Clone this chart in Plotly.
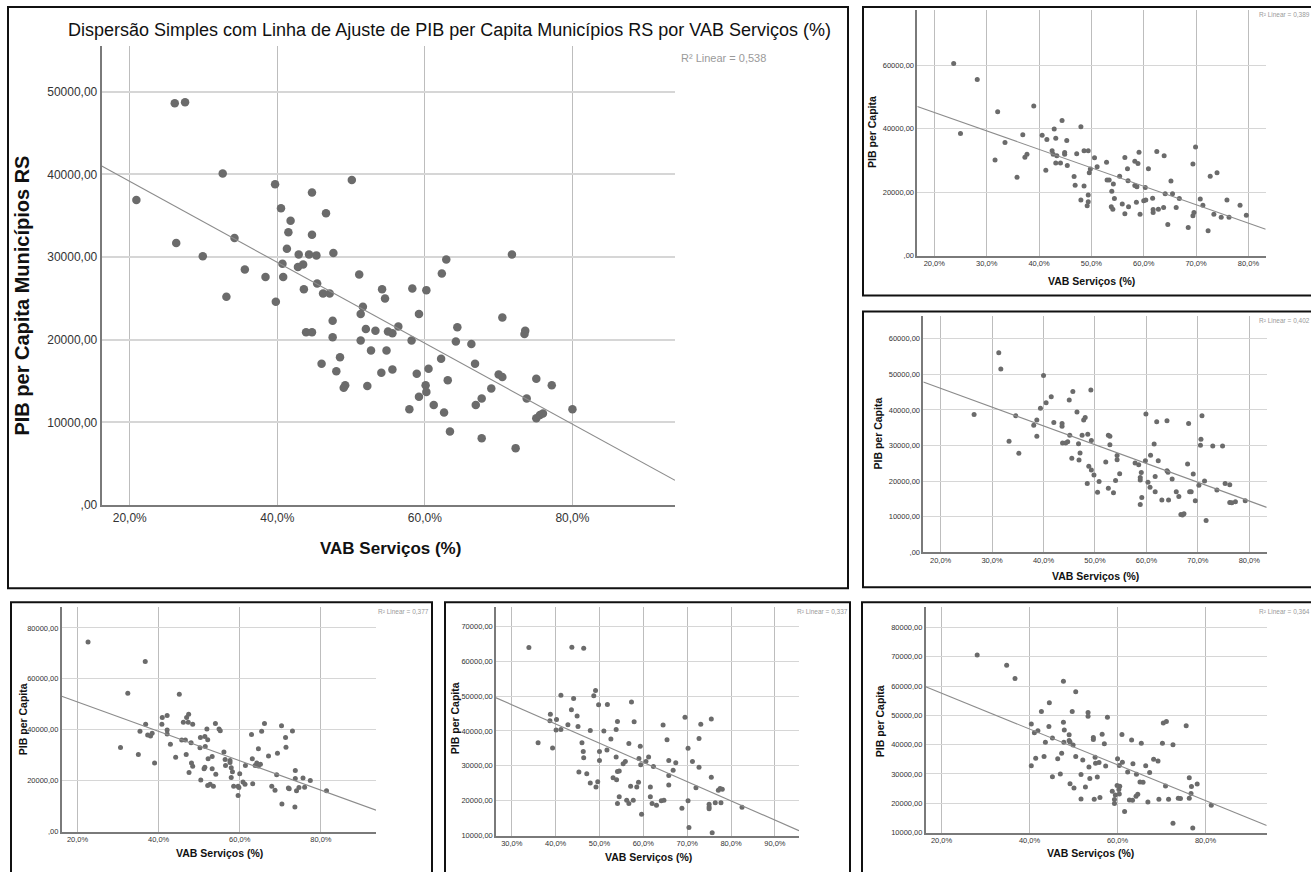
import plotly.graph_objects as go

W, H = 1311, 872
FONT = "Liberation Sans, Arial, sans-serif"

# ---------------- data (VAB Serviços %, PIB per capita in thousands) ----------------
main_vab = [26.1,27.5,32.6,39.7,50.1,20.9,44.7,40.5,46.6,41.8,
            41.5,44.7,26.3,34.2,41.3,29.9,42.9,44.3,45.3,47.6,
            40.7,42.8,43.5,35.6,51.1,38.4,40.8,33.1,43.6,45.4,
            46.2,47.1,54.2,58.3,60.2,54.6,39.8,51.6,51.3,47.5,
            43.9,44.7,47.5,52.0,53.3,55.0,55.6,51.3,52.7,54.8,
            48.5,46.0,48.0,54.1,49.2,49.0,52.2,62.3,59.2,56.4,
            58.2,64.4,64.2,66.3,70.5,73.6,73.5,62.2,66.8,55.6,
            58.9,60.5,60.1,60.2,63.1,59.2,61.2,62.6,57.9,70.0,
            70.5,69.0,67.7,66.9,75.1,77.2,73.8,75.1,75.6,76.0,
            80.0,63.4,67.7,72.3,62.9,71.8]
main_pib = [48.6,48.7,40.1,38.8,39.3,36.9,37.8,35.9,35.3,34.4,
            33.0,32.7,31.7,32.3,31.0,30.1,30.3,30.3,30.2,30.5,
            29.2,28.8,29.1,28.5,27.9,27.6,27.6,25.2,26.1,26.8,
            25.6,25.6,26.1,26.2,26.0,25.0,24.6,24.0,23.1,22.3,
            20.9,20.9,20.3,21.3,21.1,21.0,20.8,19.9,18.7,18.7,
            17.9,17.1,16.2,16.0,14.5,14.2,14.4,28.0,23.1,21.6,
            19.9,21.5,19.8,19.5,22.7,21.1,20.7,17.7,17.1,16.4,
            15.9,16.5,14.5,13.7,15.1,13.1,12.1,11.2,11.6,15.8,
            15.5,14.1,12.9,12.1,15.3,14.5,12.9,10.5,10.9,11.1,
            11.6,8.9,8.1,6.9,29.7,30.3]

tr_vab = [23.7,28.2,25.0,32.1,31.6,33.5,35.8,39.0,36.9,37.3,
          37.7,40.6,41.5,41.3,42.9,44.4,42.5,42.7,43.2,43.4,
          43.2,44.1,44.9,44.9,45.3,45.4,47.2,48.0,48.6,49.4,
          46.7,46.9,48.6,48.0,49.4,49.4,49.2,49.8,49.6,50.6,
          51.1,52.9,53.0,53.4,53.9,54.2,54.4,53.8,54.1,55.4,
          55.9,56.4,56.4,56.9,57.0,57.1,58.3,58.9,58.3,58.7,
          58.6,59.1,59.3,60.0,60.4,60.3,60.9,62.5,61.7,61.8,
          61.8,62.8,63.9,63.8,64.1,64.6,65.2,65.5,66.2,66.8,
          68.5,69.4,69.9,69.4,69.6,70.8,71.3,72.3,72.7,73.4,
          74.0,74.8,75.9,76.3,78.4,79.6]
tr_pib = [60.5,55.5,38.5,45.3,30.1,35.6,24.7,47.1,38.1,31.0,
          31.9,37.9,36.6,26.9,39.9,42.6,33.0,31.9,37.0,31.5,
          29.2,29.2,32.5,31.9,36.3,28.4,32.1,40.6,33.0,33.0,
          24.9,22.2,21.9,17.5,19.1,17.0,15.7,27.3,26.1,30.8,
          28.0,29.4,23.8,23.8,20.3,22.6,18.0,15.4,14.6,25.0,
          16.3,30.9,13.2,27.4,23.6,15.4,29.7,29.0,22.1,21.7,
          16.8,32.6,13.0,17.3,17.5,21.5,27.4,32.8,18.1,14.5,
          13.6,14.6,31.5,15.2,19.5,9.8,23.5,19.5,15.2,18.0,
          8.9,28.9,34.2,12.6,13.6,17.8,15.9,7.8,25.0,13.0,
          26.1,12.1,17.5,12.1,15.9,12.7]

mr_vab = [26.5,31.3,31.7,33.3,34.6,35.2,38.1,38.7,38.7,39.4,
          40.0,40.5,41.5,42.0,43.6,43.6,43.7,44.3,44.7,45.0,
          45.1,45.7,45.5,46.5,46.8,47.1,46.9,47.5,47.8,48.1,
          48.6,49.2,49.3,48.8,49.3,49.8,48.5,50.5,50.8,52.1,
          52.6,52.9,52.9,52.6,53.6,54.0,54.3,54.3,54.8,57.8,
          58.5,58.8,58.8,59.0,59.1,58.8,59.9,59.8,60.3,60.7,
          60.8,61.5,61.7,61.7,62.0,62.3,63.0,64.0,64.0,64.2,
          64.3,65.0,65.8,66.3,66.7,67.0,67.3,68.0,68.2,68.4,
          68.7,69.1,69.5,70.2,70.6,70.5,70.8,71.3,71.6,72.9,
          73.7,74.8,75.3,76.2,76.2,76.6,77.3,79.2]
mr_pib = [38.7,56.1,51.5,31.2,38.4,27.8,35.7,37.2,32.6,40.5,
          49.7,42.0,43.7,36.5,36.2,35.4,30.7,30.7,31.1,42.8,
          32.9,45.2,26.4,39.4,30.5,27.9,25.9,32.9,37.2,37.9,
          33.2,45.6,31.4,24.2,23.1,21.7,19.3,16.9,19.9,25.4,
          32.9,32.6,30.2,18.0,16.7,20.2,27.2,26.0,22.1,25.1,
          24.6,21.0,20.3,22.4,15.4,13.4,38.9,25.7,19.7,18.3,
          27.3,30.4,21.3,17.0,36.7,25.7,14.7,37.0,22.9,22.5,
          14.7,20.6,17.0,15.7,10.6,10.5,10.8,24.8,36.2,17.0,
          17.0,22.0,14.5,18.8,31.8,30.1,38.4,20.0,8.9,29.9,
          17.5,29.9,19.3,19.0,14.0,13.9,14.2,14.5]

bl_vab = [22.6,36.7,32.4,30.6,35.0,35.4,36.8,37.3,38.0,38.4,
          39.0,40.8,40.9,42.1,42.1,42.1,42.9,44.2,45.1,45.7,
          46.1,46.6,47.3,46.8,46.9,47.4,47.5,48.0,48.1,48.4,
          48.4,50.2,50.3,50.4,51.2,51.4,51.5,51.4,51.9,52.1,
          52.2,53.2,52.1,52.7,53.2,53.5,54.0,54.1,54.9,55.2,
          56.1,56.4,56.5,57.6,57.6,57.9,57.9,58.2,58.5,59.6,
          59.8,59.6,60.0,60.8,61.3,61.4,62.9,63.2,63.1,63.8,
          64.2,64.6,64.6,65.1,65.4,66.1,67.1,67.9,68.7,69.1,
          69.3,70.3,70.4,71.3,71.4,72.0,72.2,73.0,73.6,73.7,
          73.7,74.0,74.6,75.6,76.0,77.4,81.4]
bl_pib = [74.5,66.8,54.3,33.0,30.3,39.4,42.2,37.9,37.5,38.6,
          26.9,42.2,44.8,45.6,39.9,38.3,34.3,29.2,53.9,36.0,
          42.9,36.0,42.9,30.3,44.8,46.1,23.2,34.9,26.9,25.7,
          42.2,32.9,37.0,20.3,24.7,25.3,33.4,37.3,40.3,36.1,
          28.6,29.5,18.1,18.6,24.7,17.8,42.5,22.5,40.3,39.6,
          31.3,28.3,26.0,27.9,27.1,25.1,21.2,23.5,17.8,17.8,
          17.3,14.2,22.7,19.5,18.6,26.0,38.1,18.8,28.6,26.0,
          26.9,25.8,32.5,26.4,39.4,42.5,29.7,17.8,16.2,22.3,
          30.8,41.6,10.8,37.0,33.1,17.1,16.8,39.5,9.7,24.0,
          20.8,16.0,17.3,21.0,17.4,20.1,16.0]

bm_vab = [33.9,43.7,46.4,36.0,38.8,38.7,39.3,40.2,40.1,41.2,
          41.2,42.8,43.6,44.1,44.9,45.1,45.3,46.0,46.3,46.4,
          47.1,47.9,47.9,48.7,49.1,49.2,49.6,49.8,50.0,50.0,
          51.0,51.7,51.8,52.6,53.1,53.8,53.8,53.9,54.1,54.1,
          54.5,54.1,54.5,55.4,55.9,56.2,56.7,56.7,57.1,57.3,
          57.7,57.9,58.5,58.9,59.0,59.3,59.4,59.6,60.6,61.2,
          61.6,61.6,62.0,62.3,63.0,64.1,64.7,64.5,65.4,65.8,
          65.8,65.8,66.8,67.4,68.8,69.5,70.2,70.2,70.4,71.2,
          72.0,72.7,72.7,73.1,75.5,75.5,75.0,75.0,75.0,75.7,
          76.4,77.1,77.5,78.0,77.7,82.5]
bm_pib = [63.9,64.0,63.7,36.6,44.8,42.9,35.1,43.3,40.3,40.4,
          50.2,41.8,46.1,49.3,44.3,41.3,28.2,36.6,34.1,32.3,
          27.7,25.1,40.1,50.1,51.6,23.9,25.4,47.5,34.1,31.5,
          40.0,34.5,47.6,37.7,26.6,40.4,32.5,26.0,42.7,28.4,
          28.5,19.2,21.1,30.6,31.2,20.1,36.4,19.2,24.1,48.3,
          20.1,42.6,23.9,25.3,32.1,35.6,30.3,16.1,31.2,32.5,
          23.9,21.1,19.2,29.8,18.7,20.0,20.1,41.7,37.5,31.5,
          24.5,27.2,28.7,30.9,17.8,43.9,35.0,20.0,12.3,31.2,
          23.7,29.6,37.8,41.9,43.4,26.7,19.0,18.2,17.7,10.8,
          19.4,23.0,23.5,23.3,19.4,18.1]

br_vab = [28.1,34.8,36.7,40.4,40.4,41.1,41.9,41.4,42.7,43.6,
          43.3,44.5,44.4,45.2,45.2,46.4,47.0,47.3,47.7,47.7,
          47.9,47.8,49.0,49.0,49.2,49.2,49.7,49.9,50.1,50.5,
          50.5,51.7,51.7,52.1,52.7,53.3,53.3,53.5,53.7,54.5,
          54.5,54.7,54.9,55.0,55.4,55.8,56.0,56.5,57.0,57.3,
          57.7,58.8,59.3,59.5,59.3,60.0,59.9,60.5,60.3,60.4,
          60.4,61.1,61.0,61.6,62.3,62.7,63.4,63.2,63.5,64.3,
          64.2,64.6,65.4,65.1,65.8,66.4,66.9,67.3,68.2,69.2,
          69.4,70.2,70.4,71.1,70.9,71.6,72.6,72.6,73.8,74.3,
          75.6,76.3,76.3,76.7,76.8,77.1,78.1,81.3]
br_pib = [70.6,67.1,62.6,47.1,32.8,44.1,44.8,35.4,51.3,40.8,
          36.0,54.3,46.2,42.3,29.1,35.2,30.0,37.1,61.7,47.7,
          45.0,40.8,43.4,41.4,40.9,26.7,51.3,39.9,25.2,58.1,
          36.0,29.8,21.5,34.8,25.6,51.0,49.7,32.4,28.5,42.5,
          41.8,21.4,35.7,33.7,29.0,33.9,22.0,43.6,40.3,32.7,
          49.4,24.1,21.3,22.8,19.9,35.2,26.1,25.8,24.7,23.2,
          32.9,34.0,43.5,17.2,30.7,21.1,21.0,41.6,33.5,29.9,
          22.4,23.1,40.5,27.3,27.2,32.8,20.4,30.5,35.0,34.4,
          21.4,40.5,47.4,47.9,25.9,21.4,40.0,13.2,21.7,21.6,
          46.5,28.7,21.7,23.3,25.7,11.6,26.6,19.3]

# linear fit lines: PIB = intercept + slope * VAB
fit_intercept = [48920, 56740, 56670, 62500, 64060, 69830]
fit_slope = [-489, -581.5, -528.4, -578, -551.4, -611.6]
r2_labels = ["R² Linear = 0,538", "R² Linear = 0,389", "R² Linear = 0,402",
             "R² Linear = 0,377", "R² Linear = 0,337", "R² Linear = 0,364"]

main_title = "Dispersão Simples com Linha de Ajuste de PIB per Capita Municípios RS por VAB Serviços (%)"
x_title = "VAB Serviços (%)"
y_title_main = "PIB per Capita Municípios RS"
y_title_small = "PIB per Capita"


def pct_ticks(vals):
    return [f"{v:.1f}".replace(".", ",") + "%" for v in vals]


def pib_ticks(vals):
    return [",00" if v == 0 else f"{v},00" for v in vals]


# ---------------- layout of the six panels (pixel geometry) ----------------
panels = [
    dict(vab=main_vab, pib=main_pib, plot=(101.7, 46.7, 675, 509.3), xr=(16.2, 93.9), yr=(0, 55470),
         xt=[20, 40, 60, 80], yt=[0, 10000, 20000, 30000, 40000, 50000],
         frame=(8, 7, 848, 593), r2=(679, 58, 11), ytitle=(y_title_main, 22, 298, 20), xtitle=(390, 553, 17),
         tick=12, msize=8.5, grid_w=2, axis_w=2),
    dict(vab=tr_vab, pib=tr_pib, plot=(917.3, 10, 1265.7, 257.7), xr=(16.75, 83.3), yr=(0, 77400),
         xt=[20, 30, 40, 50, 60, 70, 80], yt=[0, 20000, 40000, 60000],
         frame=(863, 7, 1330, 298), r2=(1257, 15, 6.5), ytitle=(y_title_small, 872, 133, 10.5), xtitle=(1091, 283, 10.5),
         tick=7.5, msize=5, grid_w=1, axis_w=1.5),
    dict(vab=mr_vab, pib=mr_pib, plot=(923.3, 318.3, 1266.7, 556.7), xr=(16.63, 83.38), yr=(0, 66500),
         xt=[20, 30, 40, 50, 60, 70, 80], yt=[0, 10000, 20000, 30000, 40000, 50000, 60000],
         frame=(863, 314, 1330, 592), r2=(1257, 323, 6.5), ytitle=(y_title_small, 878, 437, 10.5), xtitle=(1095, 581, 10.5),
         tick=7.5, msize=5, grid_w=1, axis_w=1.5),
    dict(vab=bl_vab, pib=bl_pib, plot=(61.7, 611.7, 376, 838.3), xr=(16.1, 93.6), yr=(0, 88300),
         xt=[20, 40, 60, 80], yt=[0, 20000, 40000, 60000, 80000],
         frame=(11, 607, 432, 880), r2=(376, 616, 6.5), ytitle=(y_title_small, 23, 725, 10.5), xtitle=(220, 860, 10.5),
         tick=7.5, msize=5, grid_w=1, axis_w=1.5),
    dict(vab=bm_vab, pib=bm_pib, plot=(496, 611.7, 799, 842.3), xr=(26.4, 95.5), yr=(10000, 75600),
         xt=[30, 40, 50, 60, 70, 80, 90], yt=[10000, 20000, 30000, 40000, 50000, 60000, 70000],
         frame=(445, 607, 850, 880), r2=(795, 616, 6.5), ytitle=(y_title_small, 455, 724, 10.5), xtitle=(648, 864, 10.5),
         tick=7.5, msize=5, grid_w=1, axis_w=1.5),
    dict(vab=br_vab, pib=br_pib, plot=(925.7, 611.7, 1266.7, 839.3), xr=(16.4, 93.9), yr=(10000, 87100),
         xt=[20, 40, 60, 80], yt=[10000, 20000, 30000, 40000, 50000, 60000, 70000, 80000],
         frame=(862, 607, 1330, 880), r2=(1257, 616, 6.5), ytitle=(y_title_small, 880, 727, 10.5), xtitle=(1090, 860, 10.5),
         tick=7.5, msize=5, grid_w=1, axis_w=1.5),
]


def px(x):
    return x / W


def py(y):
    return 1 - y / H


fig = go.Figure()
shapes = []
annotations = []
layout_axes = {}

for i, p in enumerate(panels):
    n = "" if i == 0 else str(i + 1)
    xa, ya = "x" + n, "y" + n
    x0, y0, x1, y1 = p["plot"]
    pib_vals = [v * 1000 for v in p["pib"]]

    fig.add_trace(go.Scatter(
        x=p["vab"], y=pib_vals, mode="markers", xaxis=xa, yaxis=ya,
        marker=dict(size=p["msize"], color="#6b6b6b", line=dict(width=0)),
        showlegend=False, hoverinfo="skip"))

    lx = list(p["xr"])
    ly = [fit_intercept[i] + fit_slope[i] * v for v in lx]
    fig.add_trace(go.Scatter(
        x=lx, y=ly, mode="lines", xaxis=xa, yaxis=ya,
        line=dict(color="#8c8c8c", width=1.1), showlegend=False, hoverinfo="skip"))

    layout_axes["xaxis" + n] = dict(
        domain=[px(x0), px(x1)], anchor=ya, range=list(p["xr"]),
        tickvals=p["xt"], ticktext=pct_ticks(p["xt"]),
        showgrid=True, gridcolor="#bdbdbd", gridwidth=1, zeroline=False,
        showline=True, linecolor="#7a7a7a", linewidth=p["axis_w"], ticks="",
        tickfont=dict(family=FONT, size=p["tick"], color="#333"), fixedrange=True)
    layout_axes["yaxis" + n] = dict(
        domain=[py(y1), py(y0)], anchor=xa, range=list(p["yr"]),
        tickvals=p["yt"], ticktext=pib_ticks(p["yt"]),
        showgrid=True, gridcolor="#d6d6d6", gridwidth=p["grid_w"], zeroline=False,
        showline=True, linecolor="#7a7a7a", linewidth=p["axis_w"], ticks="",
        tickfont=dict(family=FONT, size=p["tick"], color="#333"), fixedrange=True)

    fx0, fy0, fx1, fy1 = p["frame"]
    shapes.append(dict(type="rect", xref="paper", yref="paper",
                       x0=px(fx0), x1=px(fx1), y0=py(fy1), y1=py(fy0),
                       line=dict(color="#111", width=2), fillcolor="rgba(0,0,0,0)", layer="above"))

    rx, ry, rs = p["r2"]
    annotations.append(dict(text=r2_labels[i], xref="paper", yref="paper", x=px(rx), y=py(ry),
                            xanchor="left", yanchor="middle", showarrow=False,
                            font=dict(family=FONT, size=rs, color="#9a9a9a")))
    yt_text, tx, ty, ts = p["ytitle"]
    annotations.append(dict(text="<b>" + yt_text + "</b>", xref="paper", yref="paper", x=px(tx), y=py(ty),
                            xanchor="center", yanchor="middle", showarrow=False, textangle=-90,
                            font=dict(family=FONT, size=ts, color="#111")))
    xx, xy, xs = p["xtitle"]
    annotations.append(dict(text="<b>" + x_title + "</b>", xref="paper", yref="paper", x=px(xx), y=py(xy),
                            xanchor="center", yanchor="middle", showarrow=False,
                            font=dict(family=FONT, size=xs, color="#111")))

annotations.append(dict(text=main_title, xref="paper", yref="paper", x=px(449), y=py(30),
                        xanchor="center", yanchor="middle", showarrow=False,
                        font=dict(family=FONT, size=18, color="#111")))

fig.update_layout(
    width=W, height=H, margin=dict(l=0, r=0, t=0, b=0),
    paper_bgcolor="white", plot_bgcolor="white",
    shapes=shapes, annotations=annotations, **layout_axes)

fig.write_html("out.html", config={"displayModeBar": False},
               post_script="document.body.style.margin='0';document.body.style.overflow='hidden';")
